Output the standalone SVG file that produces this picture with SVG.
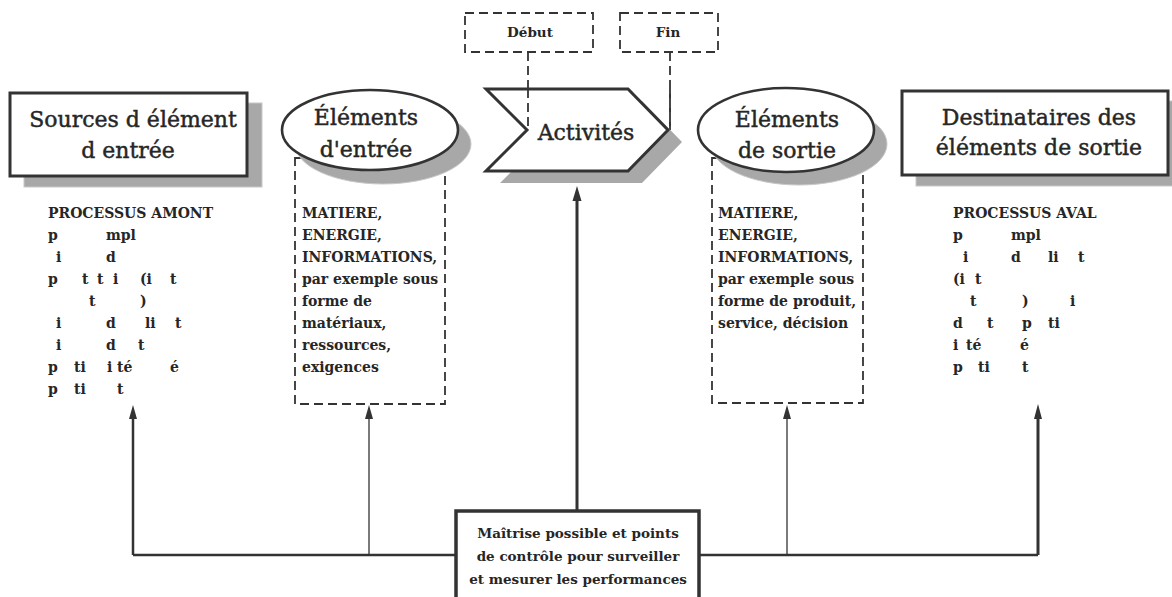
<svg xmlns="http://www.w3.org/2000/svg" width="1172" height="597" viewBox="0 0 1172 597">
<defs>
<style>
.head{font-family:"DejaVu Serif","Liberation Serif",serif;font-size:22px;fill:#262626;stroke:#262626;stroke-width:0.45;text-anchor:middle}
.body{font-family:"DejaVu Serif","Liberation Serif",serif;font-size:14px;font-weight:bold;fill:#262626}
.small{font-family:"DejaVu Serif","Liberation Serif",serif;font-size:13.5px;font-weight:bold;fill:#262626;text-anchor:middle}
.box{fill:#fff;stroke:#333;stroke-width:3}
.shadow{fill:#a8a8a8;stroke:#c8c8c8;stroke-width:1}
.dash{fill:none;stroke:#333;stroke-width:1.8;stroke-dasharray:9 5}
.line{fill:none;stroke:#333}
</style>
</defs>
<rect width="1172" height="597" fill="#fff"/>

<g id="connectors">
<path class="dash" d="M528,52 V130"/>
<path class="dash" d="M670,52 V130"/>
<path class="line" stroke-width="2.5" d="M133,555 H456 M699,555 H1038"/>
<path class="line" stroke-width="2.5" d="M133,555 V418"/>
<path d="M133,405 L137,419 L129,419 Z" fill="#333"/>
<path class="line" stroke-width="1.3" d="M369,555 V418"/>
<path d="M369,405 L373,419 L365,419 Z" fill="#333"/>
<path class="line" stroke-width="1.3" d="M787,555 V418"/>
<path d="M787,405 L791,419 L783,419 Z" fill="#333"/>
<path class="line" stroke-width="3" d="M1038,555 V418"/>
<path d="M1038,404 L1042,419 L1034,419 Z" fill="#333"/>
<path class="line" stroke-width="3" d="M577,511 V200"/>
<path d="M577,186 L581.5,201 L572.5,201 Z" fill="#333"/>
</g>

<g id="sources">
<rect class="shadow" x="24" y="103" width="238" height="84"/>
<rect class="box" x="10" y="93" width="237" height="83"/>
<text class="head" x="133" y="127">Sources d élément</text>
<text class="head" x="128" y="158">d entrée</text>
</g>

<g id="amont-list">
<text class="body" x="48" y="218">PROCESSUS AMONT</text>
<text class="body" y="240"><tspan x="48">p</tspan><tspan x="106">mpl</tspan></text>
<text class="body" y="262"><tspan x="56">i</tspan><tspan x="106">d</tspan></text>
<text class="body" y="284"><tspan x="48">p</tspan><tspan x="82">t</tspan><tspan x="97">t</tspan><tspan x="113">i</tspan><tspan x="140">(i</tspan><tspan x="170">t</tspan></text>
<text class="body" y="306"><tspan x="89">t</tspan><tspan x="140">)</tspan></text>
<text class="body" y="328"><tspan x="56">i</tspan><tspan x="106">d</tspan><tspan x="145">li</tspan><tspan x="175">t</tspan></text>
<text class="body" y="350"><tspan x="56">i</tspan><tspan x="106">d</tspan><tspan x="138">t</tspan></text>
<text class="body" y="372"><tspan x="48">p</tspan><tspan x="74">ti</tspan><tspan x="107">i</tspan><tspan x="117">té</tspan><tspan x="170">é</tspan></text>
<text class="body" y="394"><tspan x="48">p</tspan><tspan x="74">ti</tspan><tspan x="117">t</tspan></text>
</g>

<g id="entree">
<rect class="dash" x="295" y="158" width="150" height="246"/>
<ellipse class="shadow" cx="383" cy="144" rx="88" ry="40" stroke="none"/>
<ellipse cx="370" cy="130" rx="88" ry="40" fill="#fff" stroke="#333" stroke-width="2.6"/>
<text class="head" x="366" y="125">Éléments</text>
<text class="head" x="366" y="157">d'entrée</text>
<text class="body" x="302" y="218">MATIERE,</text>
<text class="body" x="302" y="240">ENERGIE,</text>
<text class="body" x="302" y="262">INFORMATIONS,</text>
<text class="body" x="302" y="284">par exemple sous</text>
<text class="body" x="302" y="306">forme de</text>
<text class="body" x="302" y="328">matériaux,</text>
<text class="body" x="302" y="350">ressources,</text>
<text class="body" x="302" y="372">exigences</text>
</g>

<g id="debut">
<rect class="dash" x="465" y="13" width="128" height="39"/>
<text class="small" x="530" y="37">Début</text>
</g>
<g id="fin">
<rect class="dash" x="620" y="13" width="98" height="39"/>
<text class="small" x="668" y="37">Fin</text>
</g>

<g id="activites">
<polygon fill="#a8a8a8" points="500,101 642,101 682,142 642,183 500,183 541,142"/>
<polygon fill="#fff" stroke="#333" stroke-width="3" stroke-linejoin="miter" points="486,89 628,89 668,130 628,171 486,171 527,130"/>
<path class="dash" d="M528,89 V130"/>
<path class="dash" d="M670,89 V128"/>
<text class="head" x="586" y="140">Activités</text>
</g>

<g id="sortie">
<rect class="dash" x="712" y="158" width="151" height="245"/>
<ellipse class="shadow" cx="799" cy="144" rx="88" ry="41" stroke="none"/>
<ellipse cx="786" cy="130" rx="88" ry="42" fill="#fff" stroke="#333" stroke-width="2.6"/>
<text class="head" x="787" y="127">Éléments</text>
<text class="head" x="787" y="158">de sortie</text>
<text class="body" x="718" y="218">MATIERE,</text>
<text class="body" x="718" y="240">ENERGIE,</text>
<text class="body" x="718" y="262">INFORMATIONS,</text>
<text class="body" x="718" y="284">par exemple sous</text>
<text class="body" x="718" y="306">forme de produit,</text>
<text class="body" x="718" y="328">service, décision</text>
</g>

<g id="destinataires">
<rect class="shadow" x="916" y="101" width="262" height="85"/>
<rect class="box" x="902" y="91" width="266" height="84"/>
<text class="head" x="1039" y="125">Destinataires des</text>
<text class="head" x="1039" y="155">éléments de sortie</text>
</g>

<g id="aval-list">
<text class="body" x="953" y="218">PROCESSUS AVAL</text>
<text class="body" y="240"><tspan x="953">p</tspan><tspan x="1011">mpl</tspan></text>
<text class="body" y="262"><tspan x="963">i</tspan><tspan x="1011">d</tspan><tspan x="1048">li</tspan><tspan x="1078">t</tspan></text>
<text class="body" y="284"><tspan x="953">(i</tspan><tspan x="975">t</tspan></text>
<text class="body" y="306"><tspan x="970">t</tspan><tspan x="1022">)</tspan><tspan x="1070">i</tspan></text>
<text class="body" y="328"><tspan x="953">d</tspan><tspan x="987">t</tspan><tspan x="1022">p</tspan><tspan x="1048">ti</tspan></text>
<text class="body" y="350"><tspan x="953">i</tspan><tspan x="966">té</tspan><tspan x="1020">é</tspan></text>
<text class="body" y="372"><tspan x="953">p</tspan><tspan x="978">ti</tspan><tspan x="1022">t</tspan></text>
</g>

<g id="maitrise">
<rect x="456" y="511" width="243" height="100" fill="#fff" stroke="#333" stroke-width="3.5"/>
<text class="small" font-size="14" x="578" y="538">Maîtrise possible et points</text>
<text class="small" font-size="14" x="578" y="561">de contrôle pour surveiller</text>
<text class="small" font-size="14" x="578" y="584">et mesurer les performances</text>
</g>
</svg>
